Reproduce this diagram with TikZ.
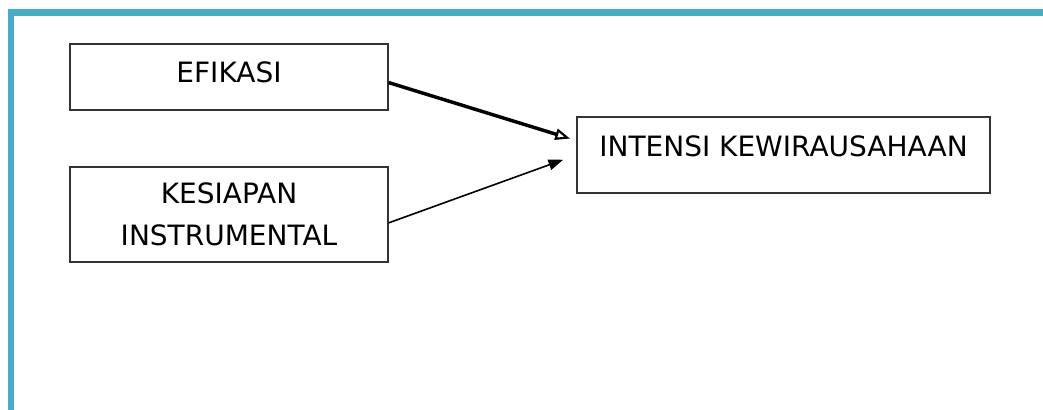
\documentclass[tikz,border=0pt]{standalone}
\usepackage{fontspec}
\setmainfont{DejaVu Sans}
\usetikzlibrary{arrows.meta}
\definecolor{frameteal}{HTML}{4BACC6}
\tikzstyle{varbox}=[draw=black!80,line width=1pt,rectangle,inner sep=0pt,align=center,font=\fontsize{21}{31.5}\selectfont]
\tikzstyle{edge} = [draw,line width=1.2pt,-{Triangle[length=11pt,width=8pt]}]
\tikzstyle{boldedge} = [draw,line width=2.6pt,-{Triangle[open,length=11pt,width=8.5pt,line width=1.6pt]}]

\begin{document}
\begin{tikzpicture}[x=0.75pt,y=-0.75pt]

    \useasboundingbox (0,0) rectangle (1043,410);

    % frame on top and left
    \draw[frameteal,line width=4.8pt] (11,410) -- (11,12.5) -- (1043,12.5);

    \node[varbox,minimum width=238.5pt,minimum height=49.5pt,text depth=7pt] (efikasi) at (229,77) {EFIKASI};
    \node[varbox,minimum width=238.5pt,minimum height=71.25pt] (kesiapan) at (229,214.5) {KESIAPAN\\INSTRUMENTAL};
    \node[varbox,minimum width=309.75pt,minimum height=57pt,text depth=13.7pt] (intensi) at (783.5,155) {INTENSI KEWIRAUSAHAAN};

    \path[boldedge,shorten >=5pt] (efikasi.-2) -- (intensi.176.7);
    \path[edge,shorten >=10.5pt] (kesiapan.-3) -- (intensi.180.5);

\end{tikzpicture}
\end{document}
